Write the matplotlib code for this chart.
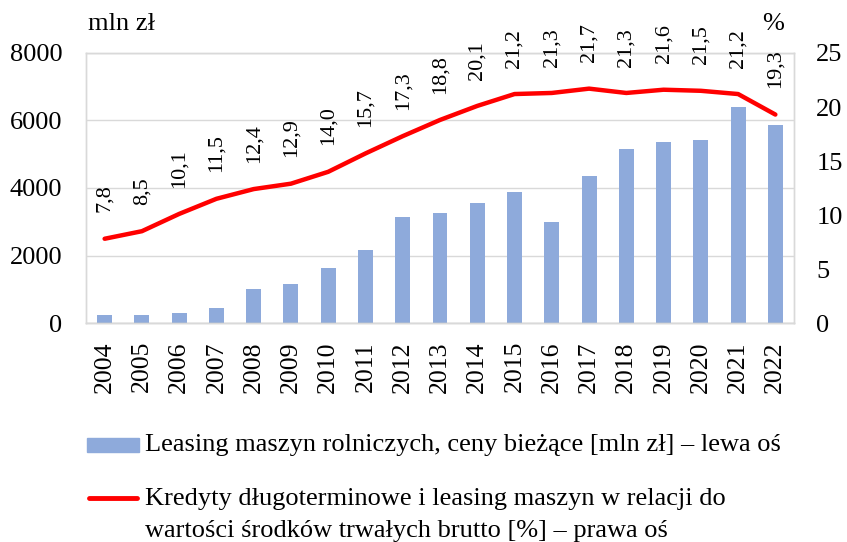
import matplotlib
matplotlib.use("Agg")
import matplotlib.pyplot as plt
from matplotlib.lines import Line2D
from matplotlib.patches import Rectangle

plt.rcParams["font.family"] = ["Liberation Serif", "DejaVu Serif"]

years = [str(y) for y in range(2004, 2023)]
leasing = [230, 250, 300, 430, 1000, 1160, 1630, 2150, 3140, 3270,
           3560, 3880, 3000, 4370, 5160, 5350, 5410, 6410, 5860]
ratio = [7.8, 8.5, 10.1, 11.5, 12.4, 12.9, 14.0, 15.7, 17.3, 18.8,
         20.1, 21.2, 21.3, 21.7, 21.3, 21.6, 21.5, 21.2, 19.3]

bar_color = "#8eaadb"
line_color = "#ff0000"
grid_color = "#d9d9d9"

fig = plt.figure(figsize=(8.47, 5.42), dpi=100)
ax = fig.add_axes([86 / 847, 219 / 542, 708 / 847, 270 / 542])
ax2 = ax.twinx()

x = list(range(len(years)))
ax.bar(x, leasing, width=0.4, color=bar_color, zorder=2)
ax.set_xlim(-0.5, len(years) - 0.5)
ax.set_ylim(0, 8000)
ax.set_yticks([0, 2000, 4000, 6000, 8000])
ax.set_xticks(x)
ax.set_xticklabels(years, rotation=90)
ax.grid(axis="y", color=grid_color, lw=1, zorder=0)
ax.tick_params(axis="y", length=0, labelsize=19, pad=17)
ax.tick_params(axis="x", length=0, labelsize=18.5, pad=13)

ax2.plot(x, ratio, color=line_color, lw=3.2, solid_capstyle="round", zorder=3)
ax2.set_ylim(0, 25)
ax2.set_yticks([0, 5, 10, 15, 20, 25])
ax2.tick_params(axis="y", length=0, labelsize=19, pad=16)
for xi, v in zip(x, ratio):
    ax2.annotate(f"{v:.1f}".replace(".", ","), (xi, v), xytext=(0, 19),
                 textcoords="offset points", rotation=90, ha="center",
                 va="bottom", fontsize=16)

for a in (ax, ax2):
    for name, sp in a.spines.items():
        sp.set_color(grid_color)
        sp.set_linewidth(1)
ax.spines["bottom"].set_color("#bfbfbf")

fig.text(88 / 847, 1 - 24 / 542, "mln zł", fontsize=19, va="center", ha="left")
fig.text(773 / 847, 1 - 24 / 542, "%", fontsize=19, va="center", ha="center")

# legend, drawn by hand
fig.add_artist(Rectangle((87 / 847, 1 - 452 / 542), 52 / 847, 14 / 542,
                         transform=fig.transFigure, color=bar_color))
fig.text(145 / 847, 1 - 445 / 542,
         "Leasing maszyn rolniczych, ceny bieżące [mln zł] – lewa oś",
         fontsize=19, va="center", ha="left")
fig.add_artist(Line2D([89 / 847, 137 / 847], [1 - 498 / 542, 1 - 498 / 542],
                      transform=fig.transFigure, color=line_color, lw=3.5,
                      solid_capstyle="round"))
fig.text(145 / 847, 1 - 499 / 542,
         "Kredyty długoterminowe i leasing maszyn w relacji do",
         fontsize=19, va="center", ha="left")
fig.text(145 / 847, 1 - 531 / 542,
         "wartości środków trwałych brutto [%] – prawa oś",
         fontsize=19, va="center", ha="left")

fig.savefig("out.png", dpi=100)
